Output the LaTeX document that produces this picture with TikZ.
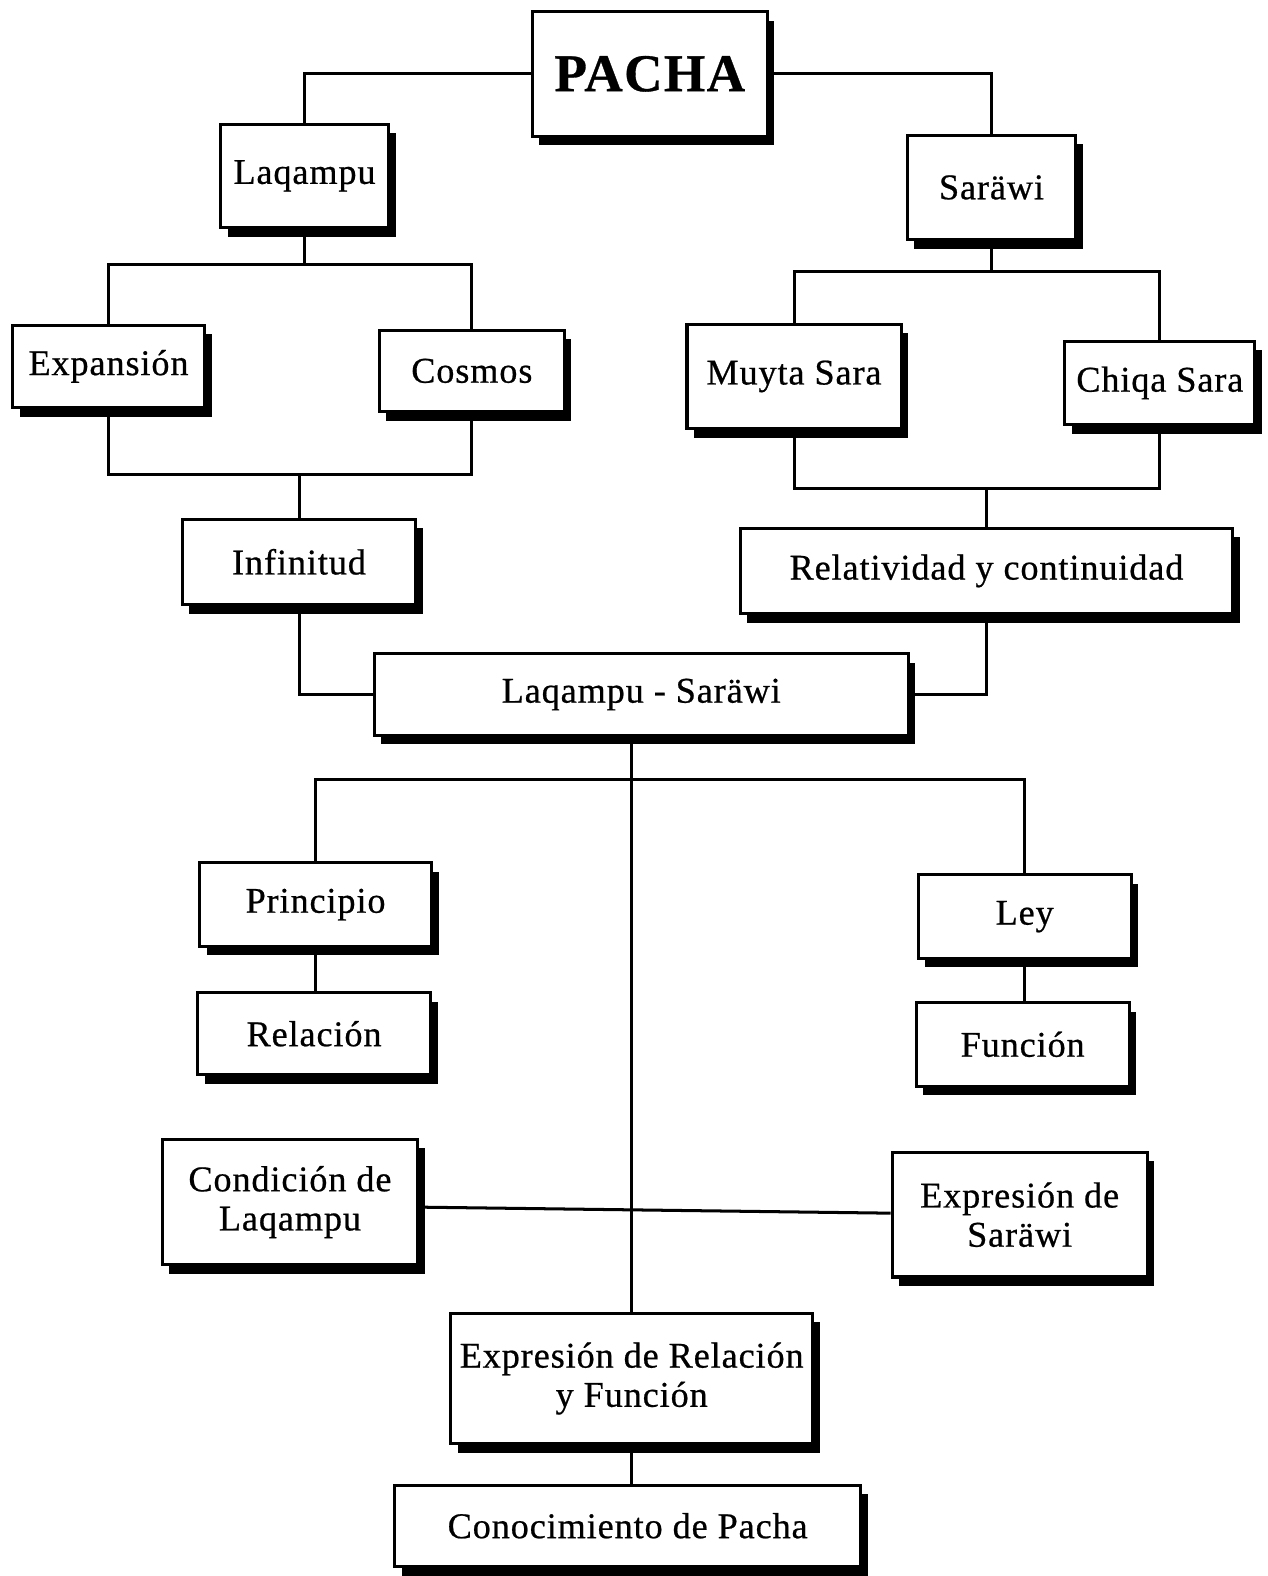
\documentclass[tikz,border=0pt]{standalone}
\usepackage{fontspec}
\setmainfont{Liberation Serif}[LetterSpace=2.5, FakeBold=0.6]
\usetikzlibrary{shadows}
\tikzset{
  pbx/.style={draw=black, line width=3pt, fill=white, align=center, inner sep=2pt,
    font=\fontsize{36}{39}\selectfont,
    drop shadow={shadow xshift=7pt, shadow yshift=-9pt, fill=black, opacity=1}},
  link/.style={draw=black, line width=3pt, line join=miter}
}
% box: name, left, top, right, bottom, text
\newcommand\pbox[6]{%
  \node[pbx, minimum width={(#4-#2-3)*1pt}, minimum height={(#5-#3-3)*1pt}]
    (#1) at ({(#2+#4)/2},{(#3+#5)/2}) {#6};}
\begin{document}
\begin{tikzpicture}[x=1pt, y=-1pt]
\useasboundingbox (0,0) rectangle (1261,1568);

\pbox{pacha}{528}{10}{765}{137}{\fontsize{53}{56}\selectfont\bfseries PACHA}
\pbox{laq}{218}{122}{388}{228}{Laqampu}
\pbox{sar}{901}{133}{1072}{240}{Saräwi}
\pbox{exp}{11}{322}{205}{407}{Expansión}
\pbox{cos}{376}{327}{563}{411}{Cosmos}
\pbox{muy}{682}{321}{898}{428}{Muyta Sara}
\pbox{chi}{1058}{338}{1250}{424}{Chiqa Sara}
\pbox{inf}{180}{515}{415}{603}{Infinitud}
\pbox{relc}{735}{524}{1228}{612}{Relatividad y continuidad}
\pbox{ls}{371}{649}{905}{733}{Laqampu - Saräwi}
\pbox{pri}{197}{857}{431}{943}{Principio}
\pbox{rel}{195}{986}{430}{1071}{Relación}
\pbox{ley}{912}{869}{1127}{955}{Ley}
\pbox{fun}{910}{996}{1125}{1082}{Función}
\pbox{cond}{160}{1132}{417}{1260}{Condición de\\Laqampu}
\pbox{exs}{886}{1145}{1143}{1272}{Expresión de\\Saräwi}
\pbox{erf}{447}{1305}{810}{1438}{Expresión de Relación\\y Función}
\pbox{con}{391}{1476}{858}{1560}{Conocimiento de Pacha}

% junction points of the branching lines
\coordinate (j1) at (laq.south |- 0,263);
\coordinate (j2) at (inf.north |- 0,472);
\coordinate (j3) at (sar.south |- 0,270);
\coordinate (j4) at (relc.north |- 0,486);
\coordinate (j5) at (ley.north |- 0,776);

\draw[link] (pacha.west) -| (laq.north);
\draw[link] (pacha.east) -| (sar.north);

\draw[link] (laq.south) -- (j1);
\draw[link] (exp.north) -- (exp.north |- j1) -- (cos.north |- j1) -- (cos.north);
\draw[link] (exp.south) -- (exp.south |- j2) -- (cos.south |- j2) -- (cos.south);
\draw[link] (j2) -- (inf.north);

\draw[link] (sar.south) -- (j3);
\draw[link] (muy.north) -- (muy.north |- j3) -- (chi.north |- j3) -- (chi.north);
\draw[link] (muy.south) -- (muy.south |- j4) -- (chi.south |- j4) -- (chi.south);
\draw[link] (j4) -- (relc.north);

\draw[link] (inf.south) |- (ls.west);
\draw[link] (relc.south) |- (ls.east);

\draw[link] (erf.north |- ls.south) -- (erf.north);
\draw[link] (pri.north) |- (j5) -- (ley.north);
\draw[link] (pri.south) -- (pri.south |- rel.north);
\draw[link] (ley.south) -- (ley.south |- fun.north);
\draw[link] (cond.east |- 0,1201) -- (exs.west |- 0,1207);
\draw[link] (erf.south) -- (erf.south |- con.north);
\end{tikzpicture}
\end{document}
